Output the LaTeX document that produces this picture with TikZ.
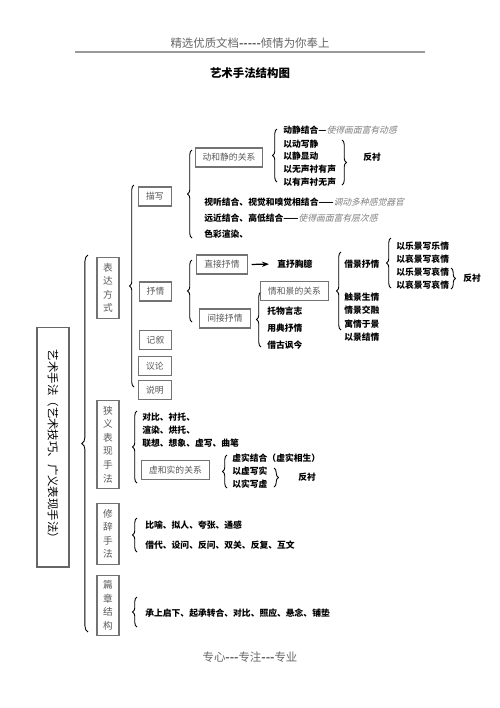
\documentclass[tikz,border=0pt]{standalone}
\usepackage{fontspec}
\setmainfont{Noto Sans CJK SC}[AutoFakeSlant=0.25]
\usetikzlibrary{arrows.meta,decorations.pathreplacing}

\begin{document}
\begin{tikzpicture}[x=0.02cm,y=-0.02cm,
  every node/.style={inner sep=0pt},
  hbox/.style={draw=black!55,line width=0.6pt,inner xsep=1.5mm,minimum height=0.38cm,
    text=black!65,font=\fontsize{5}{6}\selectfont},
  vbox/.style={draw=black!55,line width=0.6pt,minimum width=0.44cm,inner ysep=1.1mm,
    align=center,text=black!65,font=\fontsize{5.5}{7.7}\selectfont},
  item/.style={anchor=west,font=\fontsize{5}{6}\selectfont\bfseries},
  lbrace/.style={decorate,decoration={brace,amplitude=2.5pt},line width=0.5pt}]
\fill[white] (0,0) rectangle (500,708);
\useasboundingbox (0,0) rectangle (500,708);

% header and title
\node[text=black!60,font=\fontsize{6.5}{8}\selectfont] (head) at (250,43) {精选优质文档{\bfseries -{}-{}-{}-{}-}倾情为你奉上};
\draw[black!40,line width=1pt] (75,52) -- (425,52);
\node[font=\fontsize{6.5}{8}\selectfont\bfseries] (title) at (250,73) {艺术手法结构图};

% root
\node[draw=black!60,line width=0.6pt,rotate=-90,minimum width=4.8cm,minimum height=0.64cm,
  font=\fontsize{6.5}{8}\selectfont] (root) at (53,447) {艺术手法（艺术技巧、广义表现手法）};
\draw[lbrace,decoration={amplitude=3.5pt}] (88,632) -- (88,255);

% level 1
\node[vbox] (bdfs) at (108,288) {表\\达\\方\\式};
\node[vbox] (xyfx) at (108,444.5) {狭\\义\\表\\现\\手\\法};
\node[vbox] (xcfx) at (108,534) {修\\辞\\手\\法};
\node[vbox] (pzjg) at (108,605.5) {篇\\章\\结\\构};

% biaoda fangshi
\draw[lbrace] (134,387) -- (134,185);
\node[hbox] (mx) at (155,196.5) {描写};
\node[hbox] (sq) at (155.5,291.5) {抒情};
\node[hbox] (jx) at (155.5,340) {记叙};
\node[hbox] (yl) at (155,366) {议论};
\node[hbox] (sm) at (155,390) {说明};

% miaoxie
\draw[lbrace] (192,238) -- (192,150);
\node[hbox] (djg) at (229,157.5) {动和静的关系};
\draw[lbrace] (277,182) -- (277,129);
\node[item] (dj1) at (283,130) {动静结合—\textcolor{black!50}{\mdseries\itshape 使得画面富有动感}};
\node[item] (dj2) at (283,144) {以动写静};
\node[item] (dj3) at (283,156) {以静显动};
\node[item] (dj4) at (283,169) {以无声衬有声};
\node[item] (dj5) at (283,182) {以有声衬无声};
\draw[lbrace] (342,140) -- (342,185);
\node[item] (fc1) at (363,157) {反衬};
\node[item] (ms1) at (204,202) {视听结合、视觉和嗅觉相结合——\textcolor{black!50}{\mdseries\itshape 调动多种感觉器官}};
\node[item] (ms2) at (204,218) {远近结合、高低结合——\textcolor{black!50}{\mdseries\itshape 使得画面富有层次感}};
\node[item] (ms3) at (204,234) {色彩渲染、};

% shuqing
\draw[lbrace] (192,322) -- (192,260);
\node[hbox] (zjsq) at (222,264.5) {直接抒情};
\node[item] (zscy) at (277,264) {直抒胸臆};
\draw[-{Stealth[length=4pt,width=3pt]},line width=0.7pt,shorten <=0.8mm,shorten >=1.6mm] (zjsq.east) -- (zscy.west);
\node[hbox] (jjsq) at (225,318.5) {间接抒情};
\draw[lbrace] (261,347) -- (261,292);
\node[hbox] (qjg) at (294.5,291) {情和景的关系};
\node[item] (tw) at (267,311) {托物言志};
\node[item] (yd) at (267,328) {用典抒情};
\node[item] (jg) at (267,345) {借古讽今};
\draw[lbrace] (341,330) -- (341,252);
\node[item] (jjs) at (344,264) {借景抒情};
\node[item] (qj1) at (344,297) {触景生情};
\node[item] (qj2) at (344,310.5) {情景交融};
\node[item] (qj3) at (344,324) {寓情于景};
\node[item] (qj4) at (344,337.5) {以景结情};
\draw[lbrace] (391,288) -- (391,238);
\node[item] (lj1) at (396,246) {以乐景写乐情};
\node[item] (lj2) at (396,259) {以哀景写哀情};
\node[item] (lj3) at (396,272) {以乐景写哀情};
\node[item] (lj4) at (396,285) {以哀景写哀情};
\draw[lbrace] (451,268) -- (451,289);
\node[item] (fc2) at (463,278) {反衬};

% xiayi biaoxian shoufa
\draw[lbrace] (137,483) -- (137,411);
\node[item] (xy1) at (142,417) {对比、衬托、};
\node[item] (xy2) at (142,430) {渲染、烘托、};
\node[item] (xy3) at (142,443) {联想、想象、虚写、曲笔};
\node[hbox] (xsg) at (175.5,470) {虚和实的关系};
\draw[lbrace] (227,488) -- (227,455);
\node[item] (xs1) at (232,458) {虚实结合（虚实相生）};
\node[item] (xs2) at (232,471) {以虚写实};
\node[item] (xs3) at (232,484) {以实写虚};
\draw[lbrace] (274,468) -- (274,487);
\node[item] (fc3) at (298,477) {反衬};

% xiuci shoufa
\draw[lbrace] (137,552) -- (137,518);
\node[item] (xc1) at (145,525) {比喻、拟人、夸张、通感};
\node[item] (xc2) at (145,545) {借代、设问、反问、双关、反复、互文};

% pianzhang jiegou
\draw[lbrace] (137,627) -- (137,597);
\node[item] (pz1) at (145,613) {承上启下、起承转合、对比、照应、悬念、铺垫};

% footer
\node[text=black!60,font=\fontsize{6.5}{8}\selectfont] (foot) at (250,657) {专心{\bfseries -{}-{}-}专注{\bfseries -{}-{}-}专业};
\end{tikzpicture}
\end{document}
